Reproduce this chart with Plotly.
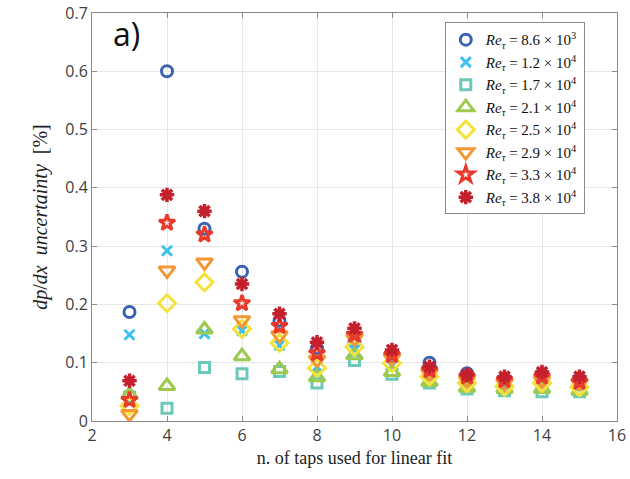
import plotly.graph_objects as go

taps = [3, 4, 5, 6, 7, 8, 9, 10, 11, 12, 13, 14, 15]

re_labels = ["8.6 × 10<sup>3</sup>", "1.2 × 10<sup>4</sup>", "1.7 × 10<sup>4</sup>",
             "2.1 × 10<sup>4</sup>", "2.5 × 10<sup>4</sup>", "2.9 × 10<sup>4</sup>",
             "3.3 × 10<sup>4</sup>", "3.8 × 10<sup>4</sup>"]

unc_re86 = [0.187, 0.600, 0.330, 0.256, 0.172, 0.125, 0.136, 0.110, 0.100, 0.082, 0.072, 0.080, 0.072]
unc_re12 = [0.148, 0.292, 0.150, 0.155, 0.130, 0.093, 0.122, 0.095, 0.075, 0.065, 0.060, 0.062, 0.058]
unc_re17 = [0.041, 0.022, 0.092, 0.081, 0.085, 0.065, 0.104, 0.080, 0.065, 0.055, 0.052, 0.050, 0.050]
unc_re21 = [0.045, 0.060, 0.157, 0.111, 0.089, 0.075, 0.113, 0.084, 0.067, 0.057, 0.055, 0.055, 0.052]
unc_re25 = [0.026, 0.202, 0.238, 0.158, 0.134, 0.091, 0.127, 0.099, 0.076, 0.065, 0.059, 0.065, 0.058]
unc_re29 = [0.012, 0.258, 0.272, 0.173, 0.147, 0.105, 0.142, 0.108, 0.082, 0.070, 0.065, 0.070, 0.065]
unc_re33 = [0.036, 0.340, 0.320, 0.202, 0.163, 0.116, 0.148, 0.113, 0.087, 0.076, 0.070, 0.076, 0.067]
unc_re38 = [0.069, 0.388, 0.360, 0.235, 0.184, 0.135, 0.159, 0.122, 0.093, 0.079, 0.076, 0.084, 0.076]

series = [unc_re86, unc_re12, unc_re17, unc_re21, unc_re25, unc_re29, unc_re33, unc_re38]
symbols = ["circle-open", "x-thin-open", "square-open", "triangle-up-open",
           "diamond-open", "triangle-down-open", "star-open", "asterisk-open"]
colors = ["#3A62B2", "#3FC1EE", "#6CC9B9", "#9CC94E", "#F4E23A", "#F39634", "#E8392B", "#C3202B"]
sizes = [11, 10, 10, 14, 13, 14, 12, 12]
widths = [3, 3, 3, 3, 3, 3, 3, 3.5]

fig = go.Figure()
for vals, lab, sym, col, sz, lw in zip(series, re_labels, symbols, colors, sizes, widths):
    fig.add_trace(go.Scatter(
        x=taps, y=vals, mode="markers",
        name="<i>Re</i><sub><i>τ</i></sub> = " + lab,
        marker=dict(symbol=sym, size=sz, color=col, line=dict(color=col, width=lw)),
    ))

axis_common = dict(
    showline=True, linecolor="#8a8a8a", linewidth=1, mirror="ticks",
    ticks="inside", ticklen=5, tickcolor="#8a8a8a",
    showgrid=True, gridcolor="#e6e6e6", gridwidth=1, zeroline=False,
    automargin=False,
    tickfont=dict(family="Open Sans, Arial, sans-serif", size=16, color="#404040"),
)

fig.update_layout(
    width=630, height=479,
    margin=dict(l=92, r=13, t=13, b=58, autoexpand=False),
    paper_bgcolor="white", plot_bgcolor="white",
    xaxis=dict(range=[2, 16], dtick=2, **axis_common,
               title=dict(text="n. of taps used for linear fit",
                          font=dict(family="Liberation Serif, DejaVu Serif, serif", size=18, color="#222"),
                          standoff=6)),
    yaxis=dict(range=[0, 0.7], **axis_common,
               tickvals=[0, 0.1, 0.2, 0.3, 0.4, 0.5, 0.6, 0.7],
               ticktext=["0", "0.1", "0.2", "0.3", "0.4", "0.5", "0.6", "0.7"],
               title=dict(text="<i>dp</i>/<i>dx</i>  <i>uncertainty</i>  [%]",
                          font=dict(family="Liberation Serif, DejaVu Serif, serif", size=20, color="#222"),
                          standoff=12)),
    legend=dict(x=0.672, y=0.977, xanchor="left", yanchor="top",
                bordercolor="#8a8a8a", borderwidth=1, bgcolor="white",
                font=dict(family="Liberation Serif, DejaVu Serif, serif", size=15, color="#111"),
                tracegroupgap=0, itemsizing="trace"),
    annotations=[dict(x=2.5, y=0.665, xref="x", yref="y", text="a)", showarrow=False,
                      xanchor="left", yanchor="middle",
                      font=dict(family="Open Sans, Arial, sans-serif", size=32, color="#111"))],
)

fig.write_html("out.html", config={"displayModeBar": False},
               post_script="document.body.style.margin='0';document.body.style.padding='0';")
